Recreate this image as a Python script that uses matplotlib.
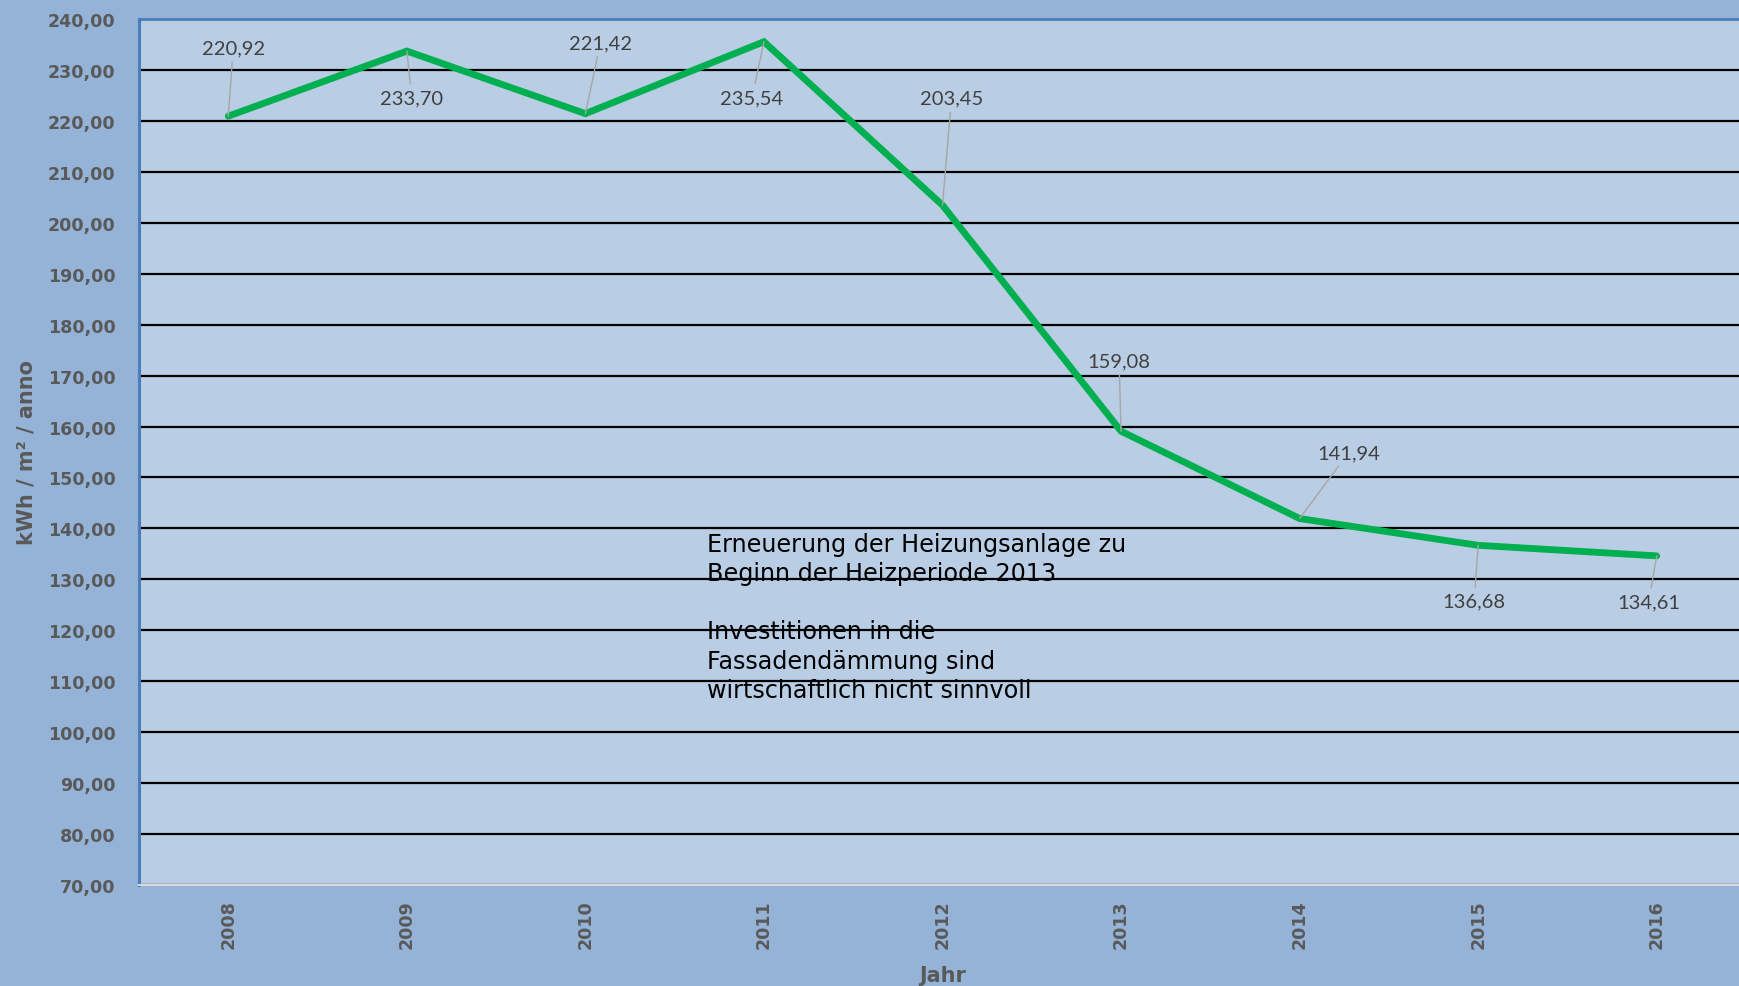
import matplotlib
matplotlib.use("Agg")
import matplotlib.pyplot as plt
from matplotlib.ticker import FuncFormatter, MultipleLocator

years = ["2008", "2009", "2010", "2011", "2012", "2013", "2014", "2015", "2016"]
values = [220.92, 233.70, 221.42, 235.54, 203.45, 159.08, 141.94, 136.68, 134.61]
# label offsets (pixels) relative to each point
label_dx = [5, 5, 15, -12, 9, -2, 49, -4, -8]
label_dy = [68, -47, 71, -56, 107, 70, 66, -56, -46]

note = ("Erneuerung der Heizungsanlage zu\nBeginn der Heizperiode 2013\n\n"
        "Investitionen in die\nFassadendämmung sind\nwirtschaftlich nicht sinnvoll")

fig = plt.figure(figsize=(17.39, 9.87), dpi=100)
fig.patch.set_facecolor("#95B3D7")
ax = fig.add_axes([139/1739, 1-886/987, (1746-139)/1739, (886-20)/987])
ax.set_facecolor("#B9CDE5")

x = list(range(len(years)))
ax.set_xlim(-0.5, len(years) - 0.5)
ax.set_ylim(70, 240)
ax.yaxis.set_major_locator(MultipleLocator(10))
ax.yaxis.set_major_formatter(FuncFormatter(lambda v, p: f"{v:.2f}".replace(".", ",")))
ax.grid(axis="y", color="black", linewidth=1.6, zorder=1)
ax.set_axisbelow(True)

ax.plot(x, values, color="#00B050", linewidth=4.9, solid_capstyle="round",
        solid_joinstyle="miter", zorder=3)

for xi, v, dx, dy in zip(x, values, label_dx, label_dy):
    ax.annotate(f"{v:.2f}".replace(".", ","), xy=(xi, v), xytext=(dx, dy),
                textcoords="offset pixels", ha="center", va="center",
                fontsize=14.5, family="Lato", color="#404040",
                arrowprops=dict(arrowstyle="-", color="#A6A6A6", lw=1.0,
                                shrinkA=2, shrinkB=0), zorder=4)

ax.text(707/1739, 1-533/987, note, transform=fig.transFigure, ha="left", va="top",
        fontsize=17.2, family="DejaVu Sans", color="black", linespacing=1.27, zorder=5)

ax.set_xticks(x)
ax.set_xticklabels(years, rotation=90)
ax.tick_params(axis="y", length=0, pad=17)
ax.tick_params(axis="x", length=0, pad=10)
for lab in ax.get_yticklabels() + ax.get_xticklabels():
    lab.set_fontfamily("DejaVu Sans")
    lab.set_fontweight("bold")
    lab.set_fontsize(12.6)
    lab.set_color("#595959")

ax.set_ylabel("kWh / m² / anno", fontsize=15, fontweight="bold", family="DejaVu Sans",
              color="#595959")
ax.yaxis.set_label_coords((37-139)/1607, 0.5)
ax.set_xlabel("Jahr", fontsize=15, fontweight="bold", family="DejaVu Sans", color="#595959")
ax.xaxis.set_label_coords(0.5, -(966-886)/866)

ax.spines["left"].set_color("#4A7EBB")
ax.spines["left"].set_linewidth(2.2)
ax.spines["top"].set_color("#4A7EBB")
ax.spines["top"].set_linewidth(2.0)
ax.spines["bottom"].set_color("#D9D9D9")
ax.spines["bottom"].set_linewidth(1.5)
ax.spines["right"].set_visible(False)

fig.savefig("out.png", dpi=100, facecolor=fig.get_facecolor())
